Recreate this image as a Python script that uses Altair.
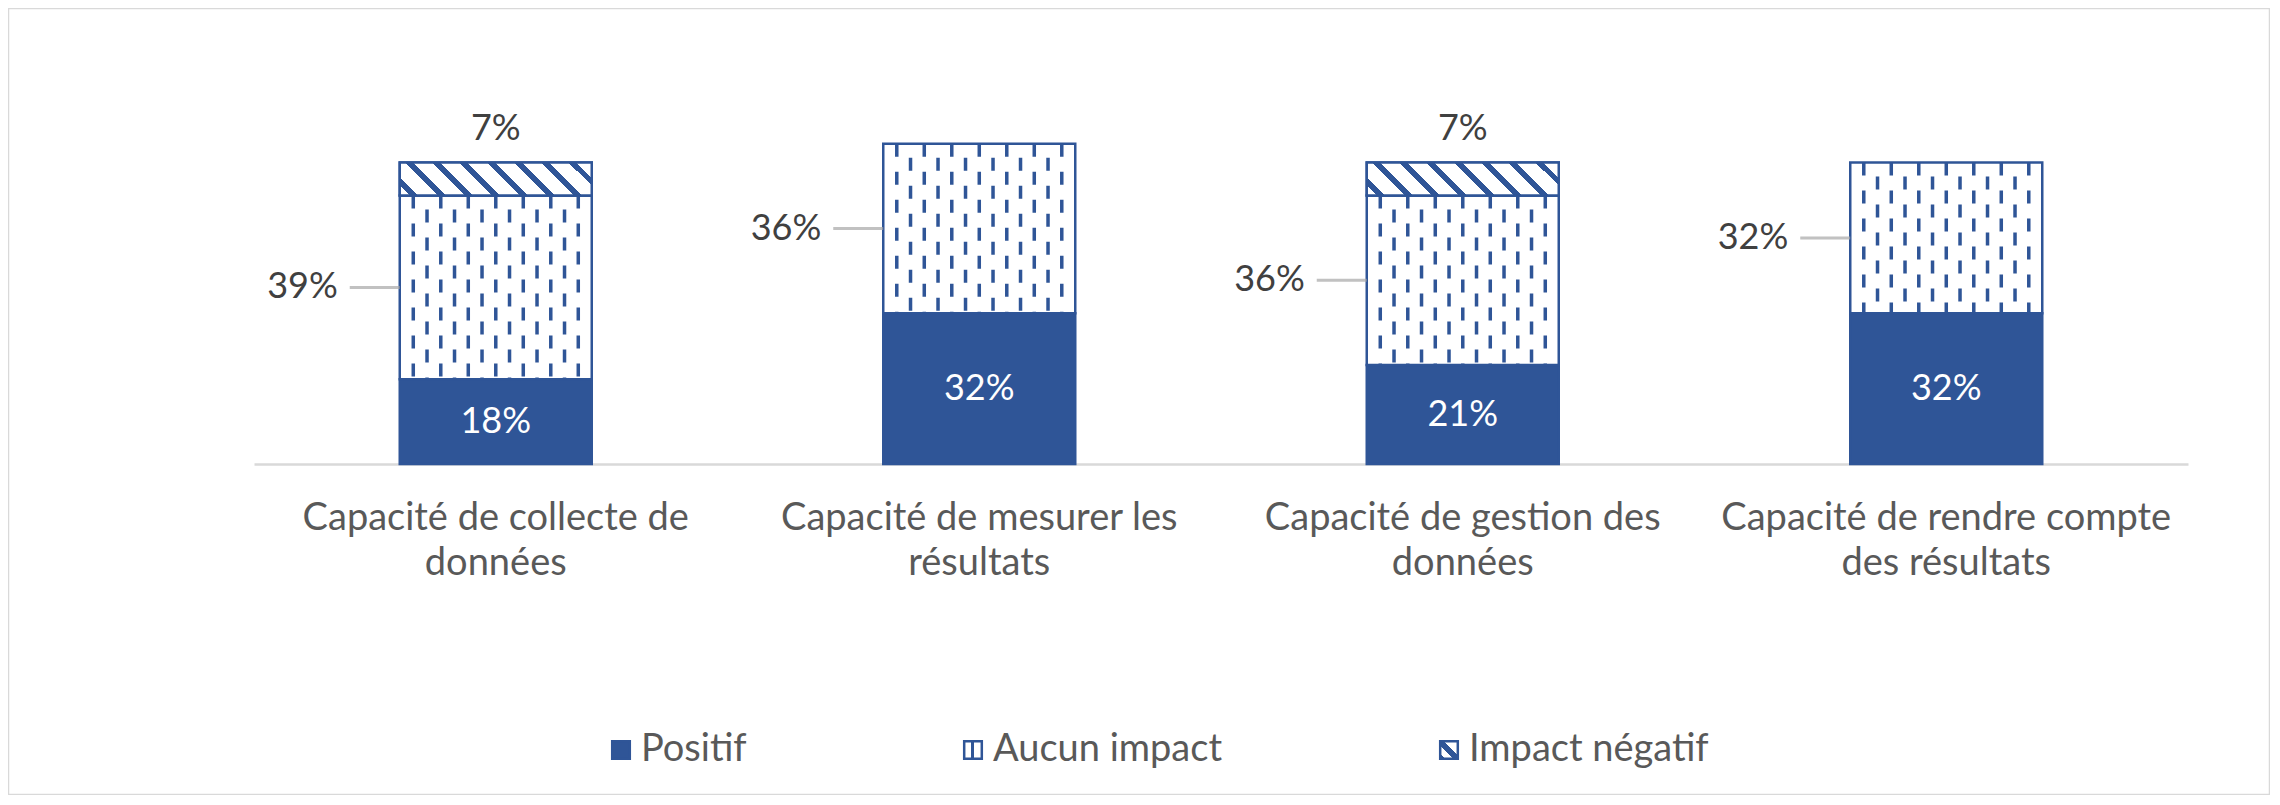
import math
import altair as alt
import pandas as pd

# ---------------- data ----------------
categories = [
    "Capacité de collecte de\ndonnées",
    "Capacité de mesurer les\nrésultats",
    "Capacité de gestion des\ndonnées",
    "Capacité de rendre compte\ndes résultats",
]
series = ["Positif", "Aucun impact", "Impact négatif"]
positif = [18, 32, 21, 32]
aucun = [39, 36, 36, 32]
negatif = [7, 0, 7, 0]

rows = []
for i, c in enumerate(categories):
    for j, (s, vals) in enumerate(zip(series, [positif, aucun, negatif])):
        rows.append({"cat": c, "series": s, "order": j, "value": vals[i]})
df = pd.DataFrame(rows)

# ---------------- style ----------------
BLUE = "#2F5597"
FONT = "Lato"
LABEL_GRAY = "#595959"
DATA_GRAY = "#404040"
BAR_W = 192

# diagonal hatch gradient for the "Impact négatif" segments (pattern styling)
W, H = float(BAR_W), 33.0
r = H / W
a = (1 + r) / (1 + r * r)
S = W + H
P, BW, PH = 27.3, 8.0, 5.0
stops = [{"offset": 0, "color": "white"}]
k = -3
while True:
    s0 = PH + k * P
    s1 = s0 + BW
    k += 1
    if s0 >= W:
        break
    if s1 <= -H:
        continue
    t0 = (max(s0, -H) + H) / S
    t1 = (min(s1, W) + H) / S
    stops += [
        {"offset": round(t0, 4), "color": "white"},
        {"offset": round(t0, 4), "color": BLUE},
        {"offset": round(t1, 4), "color": BLUE},
        {"offset": round(t1, 4), "color": "white"},
    ]
stops.append({"offset": 1, "color": "white"})
hatch = alt.LinearGradient(gradient="linear", stops=stops, x1=0, y1=1, x2=a, y2=1 - a * r)

# legend swatch patterns (gradients built in Vega expressions)
def grad_expr(x1, y1, x2, y2, st):
    s = ", ".join("{offset: %s, color: '%s'}" % (o, c) for o, c in st)
    return "{gradient: 'linear', x1: %s, y1: %s, x2: %s, y2: %s, stops: [%s]}" % (x1, y1, x2, y2, s)

aucun_swatch = grad_expr(0, 0, 1, 0, [(0, "white"), (0.4, "white"), (0.4, BLUE), (0.58, BLUE), (0.58, "white"), (1, "white")])
neg_swatch = grad_expr(0, 1, 1, 0, [(0, BLUE), (0.14, BLUE), (0.14, "white"), (0.38, "white"), (0.38, BLUE), (0.6, BLUE), (0.6, "white"), (1, "white")])

x_enc = alt.X(
    "cat:N",
    sort=categories,
    scale=alt.Scale(range=[246, 2180], paddingInner=0.603, paddingOuter=0.3015),
    axis=alt.Axis(
        title=None,
        labelExpr="split(datum.label, '\\n')",
        labelAngle=0,
        labelFont=FONT,
        labelFontSize=38,
        labelColor=LABEL_GRAY,
        labelLineHeight=45,
        labelPadding=35,
        labelLimit=0,
        ticks=False,
        domainColor="#d9d9d9",
        domainWidth=2.5,
        offset=-331,
        grid=False,
    ),
)
y_scale = alt.Scale(domain=[0, 80], range=[456, 79.2], nice=False)
y_enc = alt.Y("y1:Q", scale=y_scale, axis=None)

base = (
    alt.Chart(df)
    .transform_stack(
        stack="value", groupby=["cat"], as_=["y0", "y1"],
        sort=[alt.SortField("order", order="ascending")],
    )
    .transform_calculate(mid="(datum.y0 + datum.y1) / 2", label="datum.value + '%'")
)

# legend-carrying layer, drawn underneath the visible bars
legend_layer = base.transform_filter("datum.value > 0").mark_bar(width=BAR_W).encode(
    x=x_enc,
    y=y_enc,
    y2="y0:Q",
    fill=alt.Fill(
        "series:N",
        scale=alt.Scale(
            domain=series,
            range=[BLUE, alt.ExprRef(aucun_swatch), alt.ExprRef(neg_swatch)],
        ),
        legend=alt.Legend(
            orient="none", legendX=594, legendY=723, direction="horizontal",
            title=None, symbolType="square", symbolSize=310,
            symbolStrokeColor=BLUE, symbolStrokeWidth=2.5,
            labelFont=FONT, labelFontSize=38, labelColor=LABEL_GRAY,
            labelOffset=1, columnPadding=207, padding=0, labelLimit=0,
        ),
    ),
)

bars = base.transform_filter("datum.value > 0").mark_bar(
    stroke=BLUE, strokeWidth=2.5, width=BAR_W
).encode(
    x=x_enc,
    y=y_enc,
    y2="y0:Q",
    color=alt.Color(
        "series:N",
        scale=alt.Scale(domain=series, range=[BLUE, "white", "white"]),
        legend=None,
    ),
)

hatch_bars = base.transform_filter(
    "datum.series == 'Impact négatif' && datum.value > 0"
).mark_bar(fill=hatch, stroke=BLUE, strokeWidth=2.5, width=BAR_W).encode(
    x=x_enc, y=y_enc, y2="y0:Q"
)

dash_src = (
    base.transform_filter("datum.series == 'Aucun impact'")
    .transform_calculate(col="sequence(0, 13)")
    .transform_flatten(["col"])
)
xoff = alt.XOffset("col:Q", scale=alt.Scale(domain=[0, 12], range=[13.5, 178.5]))
dash_even = dash_src.transform_filter("datum.col % 2 == 0").mark_rule(
    color=BLUE, strokeWidth=3.5, strokeDash=[13, 15], strokeDashOffset=0
).encode(x=x_enc, xOffset=xoff, y=alt.Y("y1:Q", scale=y_scale, axis=None), y2="y0:Q")
dash_odd = dash_src.transform_filter("datum.col % 2 == 1").mark_rule(
    color=BLUE, strokeWidth=3.5, strokeDash=[13, 15], strokeDashOffset=14
).encode(x=x_enc, xOffset=xoff, y=alt.Y("y1:Q", scale=y_scale, axis=None), y2="y0:Q")

pos_text = base.transform_filter("datum.series == 'Positif'").mark_text(
    font=FONT, fontSize=36, color="white", baseline="middle"
).encode(x=x_enc, y=alt.Y("mid:Q", scale=y_scale, axis=None), text="label:N")

aucun_text = base.transform_filter("datum.series == 'Aucun impact'").mark_text(
    font=FONT, fontSize=36, color=DATA_GRAY, baseline="middle", align="right", xOffset=-158
).encode(x=x_enc, y=alt.Y("mid:Q", scale=y_scale, axis=None), text="label:N")

leaders = base.transform_filter("datum.series == 'Aucun impact'").mark_tick(
    orient="horizontal", size=50, thickness=3, xOffset=-121, color="#a6a6a6"
).encode(x=x_enc, y=alt.Y("mid:Q", scale=y_scale, axis=None))

neg_text = base.transform_filter(
    "datum.series == 'Impact négatif' && datum.value > 0"
).mark_text(font=FONT, fontSize=36, color=DATA_GRAY, baseline="middle", dy=-34).encode(
    x=x_enc, y=alt.Y("y1:Q", scale=y_scale, axis=None), text="label:N"
)

chart = (
    alt.layer(legend_layer, bars, hatch_bars, dash_even, dash_odd, leaders,
              pos_text, aucun_text, neg_text)
    .properties(width=2262, height=787, autosize=alt.AutoSizeParams(type="none"), padding=0)
    .configure_view(stroke="#d9d9d9", strokeWidth=2.5)
)

chart.save("out.html", embed_options={"renderer": "svg", "actions": False})
